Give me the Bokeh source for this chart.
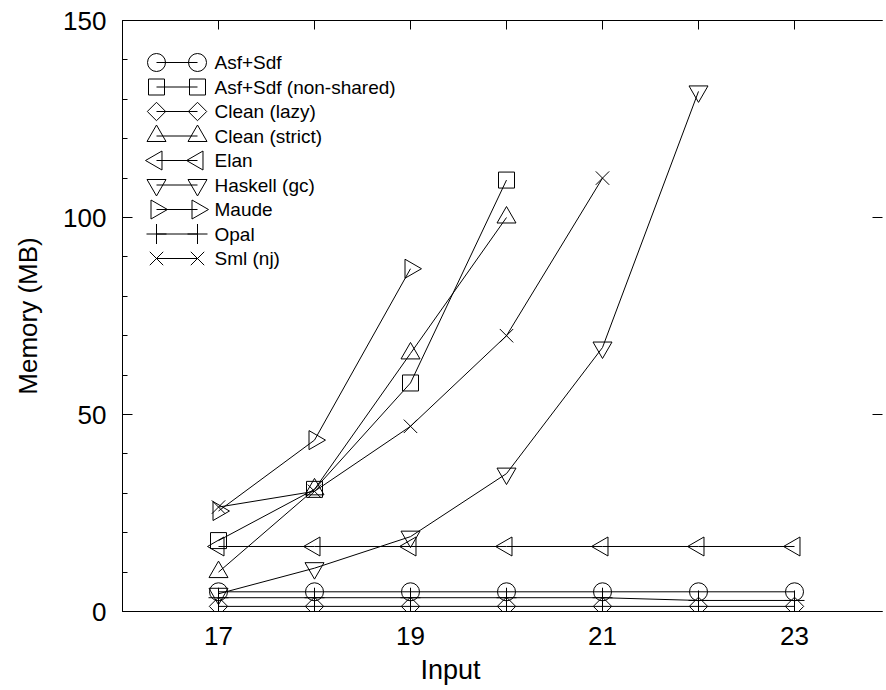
import math
from bokeh.plotting import figure
from bokeh.models import LinearAxis, FixedTicker, Range1d, Title
from bokeh.core.properties import value
from bokeh.embed import file_html
from bokeh.resources import INLINE

# ---------------- data ----------------
names = ["Asf+Sdf", "Asf+Sdf (non-shared)", "Clean (lazy)", "Clean (strict)",
         "Elan", "Haskell (gc)", "Maude", "Opal", "Sml (nj)"]

x_asf = [17, 18, 19, 20, 21, 22, 23]
y_asf = [5.0, 5.0, 5.0, 5.0, 5.0, 5.0, 5.0]

x_asf_ns = [17, 18, 19, 20]
y_asf_ns = [18.0, 31.0, 58.0, 109.5]

x_clean_lazy = [17, 18, 19, 20, 21, 22, 23]
y_clean_lazy = [1.3, 1.3, 1.3, 1.3, 1.3, 1.3, 1.3]

x_clean_strict = [17, 18, 19, 20]
y_clean_strict = [10.0, 31.0, 65.5, 100.0]

x_elan = [17, 18, 19, 20, 21, 22, 23]
y_elan = [16.5, 16.5, 16.5, 16.5, 16.5, 16.5, 16.5]

x_haskell = [17, 18, 19, 20, 21, 22]
y_haskell = [4.5, 11.0, 19.0, 35.0, 67.0, 132.0]

x_maude = [17, 18, 19]
y_maude = [25.5, 43.5, 87.0]

x_opal = [17, 18, 19, 20, 21, 22, 23]
y_opal = [3.5, 3.5, 3.5, 3.5, 3.5, 2.8, 2.8]

x_sml = [17, 18, 19, 20, 21]
y_sml = [26.5, 30.5, 47.0, 70.0, 110.0]

x_ticks = [17, 19, 21, 23]
x_minor_ticks = [16, 18, 20, 22, 24]
y_ticks = [0, 50, 100, 150]
y_minor_ticks = [0, 10, 20, 30, 40, 50, 60, 70, 80, 90, 100, 110, 120, 130, 140, 150]

series_x = [x_asf, x_asf_ns, x_clean_lazy, x_clean_strict, x_elan,
            x_haskell, x_maude, x_opal, x_sml]
series_y = [y_asf, y_asf_ns, y_clean_lazy, y_clean_strict, y_elan,
            y_haskell, y_maude, y_opal, y_sml]

# ---------------- style ----------------
FONT = "Liberation Sans"
INK = "black"
FRAME_W, FRAME_H = 760, 591
X0 = 16
PX_PER_UNIT = 96

markers = [
    ("circle", 18, 0.0),
    ("square", 16, 0.0),
    ("square", 13, math.pi / 4),
    ("triangle", 19, 0.0),
    ("triangle", 19, math.pi / 2),
    ("inverted_triangle", 19, 0.0),
    ("triangle", 19, -math.pi / 2),
    ("cross", 20, 0.0),
    ("x", 19, 0.0),
]

p = figure(frame_width=FRAME_W, frame_height=FRAME_H,
           x_range=Range1d(X0, X0 + FRAME_W / PX_PER_UNIT),
           y_range=Range1d(0, 150),
           x_axis_location=None, y_axis_location=None,
           output_backend="svg", toolbar_location=None,
           min_border_left=122, min_border_top=20, min_border_right=4,
           min_border_bottom=5)
p.outline_line_color = None
p.background_fill_color = "white"
p.border_fill_color = "white"
p.grid.visible = False
p.grid.grid_line_color = None

# axes
left = LinearAxis(ticker=FixedTicker(ticks=y_ticks, minor_ticks=y_minor_ticks))
left.axis_label = "Memory (MB)"
left.axis_label_text_font = FONT
left.axis_label_text_font_size = "26px"
left.axis_label_text_font_style = "normal"
left.axis_label_text_color = INK
left.axis_label_standoff = 17
left.major_label_text_font = FONT
left.major_label_text_font_size = "26px"
left.major_label_text_color = INK
left.major_label_standoff = 16
left.major_tick_in = 10
left.major_tick_out = 0
left.minor_tick_in = 5
left.minor_tick_out = 0
left.axis_line_color = INK
left.major_tick_line_color = INK
left.minor_tick_line_color = INK
p.add_layout(left, "left")

bottom = LinearAxis(ticker=FixedTicker(ticks=x_ticks, minor_ticks=x_minor_ticks))
bottom.major_label_text_font = FONT
bottom.major_label_text_font_size = "26px"
bottom.major_label_text_color = INK
bottom.major_label_standoff = 15
bottom.major_tick_in = 10
bottom.major_tick_out = 0
bottom.minor_tick_in = 5
bottom.minor_tick_out = 0
bottom.axis_line_color = INK
bottom.major_tick_line_color = INK
bottom.minor_tick_line_color = INK
p.add_layout(bottom, "below")

xlabel = Title(text="Input", align="left", offset=298,
               text_font=FONT, text_font_size="27px", text_font_style="normal",
               text_color=INK, standoff=10)
p.add_layout(xlabel, "below")

top_ticks = list(range(16, 25))
top = LinearAxis(ticker=FixedTicker(ticks=top_ticks, minor_ticks=[]))
top.major_label_overrides = {t: "" for t in top_ticks}
top.major_label_text_font_size = "0px"
top.major_label_standoff = 0
top.major_tick_in = 9
top.major_tick_out = 0
top.axis_line_color = INK
top.major_tick_line_color = INK
p.add_layout(top, "above")

right = LinearAxis(ticker=FixedTicker(ticks=y_ticks, minor_ticks=[]))
right.major_label_overrides = {t: "" for t in y_ticks}
right.major_label_text_font_size = "0px"
right.major_label_standoff = 0
right.major_tick_in = 10
right.major_tick_out = 0
right.axis_line_color = None
right.major_tick_line_color = INK
p.add_layout(right, "right")

# data series
for xs, ys, (mk, sz, ang) in zip(series_x, series_y, markers):
    p.line(xs, ys, line_color=INK, line_width=1)
    p.scatter(xs, ys, marker=mk, size=sz, angle=ang,
              fill_color=None, line_color=INK, line_width=1)

# legend drawn in a pixel coordinate system inside the frame
p.extra_x_ranges = {"px": Range1d(0, FRAME_W)}
p.extra_y_ranges = {"py": Range1d(0, FRAME_H)}
LEG_TOP = 42
LEG_ROW = 24.5
LEG_X1, LEG_X2, LEG_TX = 34, 75, 92
for i, (name, (mk, sz, ang)) in enumerate(zip(names, markers)):
    cy = FRAME_H - (LEG_TOP + LEG_ROW * i)
    p.segment(x0=[LEG_X1], y0=[cy], x1=[LEG_X2], y1=[cy],
              x_range_name="px", y_range_name="py",
              line_color=INK, line_width=1)
    p.scatter([LEG_X1, LEG_X2], [cy, cy], marker=mk, size=sz, angle=ang,
              x_range_name="px", y_range_name="py",
              fill_color=None, line_color=INK, line_width=1)
    p.text([LEG_TX], [cy], text=[name], x_range_name="px", y_range_name="py",
           text_font=value(FONT), text_font_size="19px", text_color=INK,
           text_baseline="middle", text_align="left")

open("out.html", "w").write(file_html(p, INLINE))
